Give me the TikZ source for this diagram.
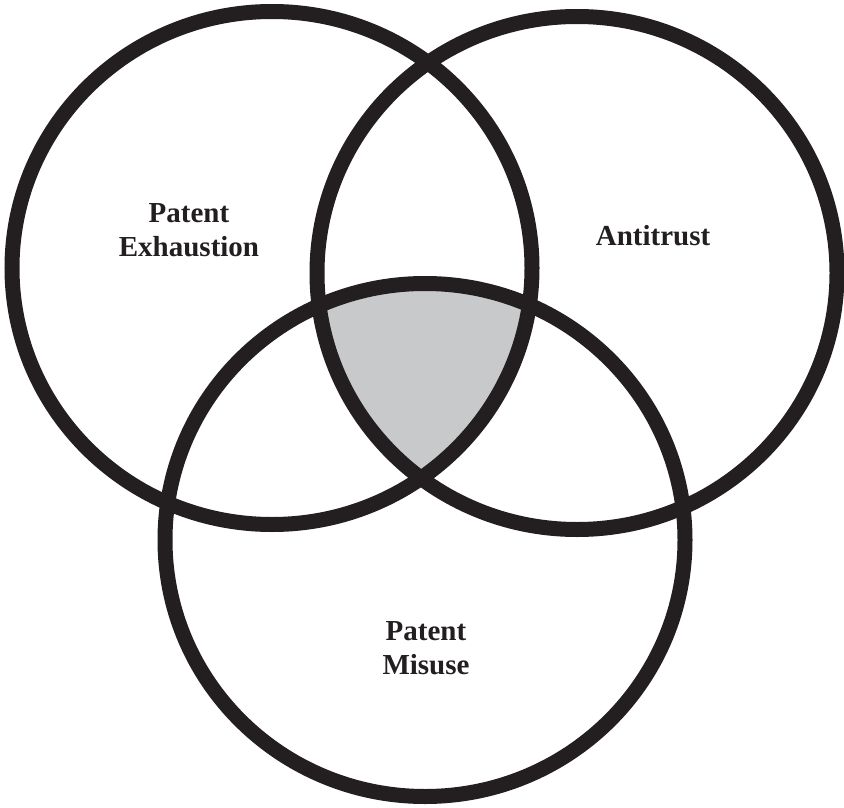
\documentclass[tikz,border=0pt]{standalone}
\usepackage{fontspec}
\setmainfont{Liberation Serif}
\definecolor{inkblack}{RGB}{35,31,32}
\definecolor{coregray}{RGB}{200,201,203}

\begin{document}
\begin{tikzpicture}[x=1pt, y=-1pt,
		ring/.style={draw=inkblack, line width=15pt},
		tag/.style={text=inkblack, font=\bfseries\fontsize{29}{34}\selectfont, align=center}]
		%%%%% START %%%%%
		
		\useasboundingbox (0, 0) rectangle (844, 808);
		
		\coordinate (exh) at (272, 268);
		\coordinate (anti) at (577, 273);
		\coordinate (mis) at (425, 540);
		
		% shared part of all three
		\begin{scope}
			\clip (exh) ellipse (260pt and 256.5pt);
			\clip (anti) ellipse (260pt and 256.5pt);
			\fill[coregray] (mis) ellipse (260pt and 256.5pt);
		\end{scope}
		
		\draw[ring] (exh) ellipse (260pt and 256.5pt);
		\draw[ring] (anti) ellipse (260pt and 256.5pt);
		\draw[ring] (mis) ellipse (260pt and 256.5pt);
		
		\node[tag] (exhtext) at (189, 230) {Patent\\Exhaustion};
		\node[tag] (antitext) at (653, 236) {Antitrust};
		\node[tag] (mistext) at (426, 648) {Patent\\Misuse};
		
		%%%%% END %%%%%
	\end{tikzpicture}
\end{document}
